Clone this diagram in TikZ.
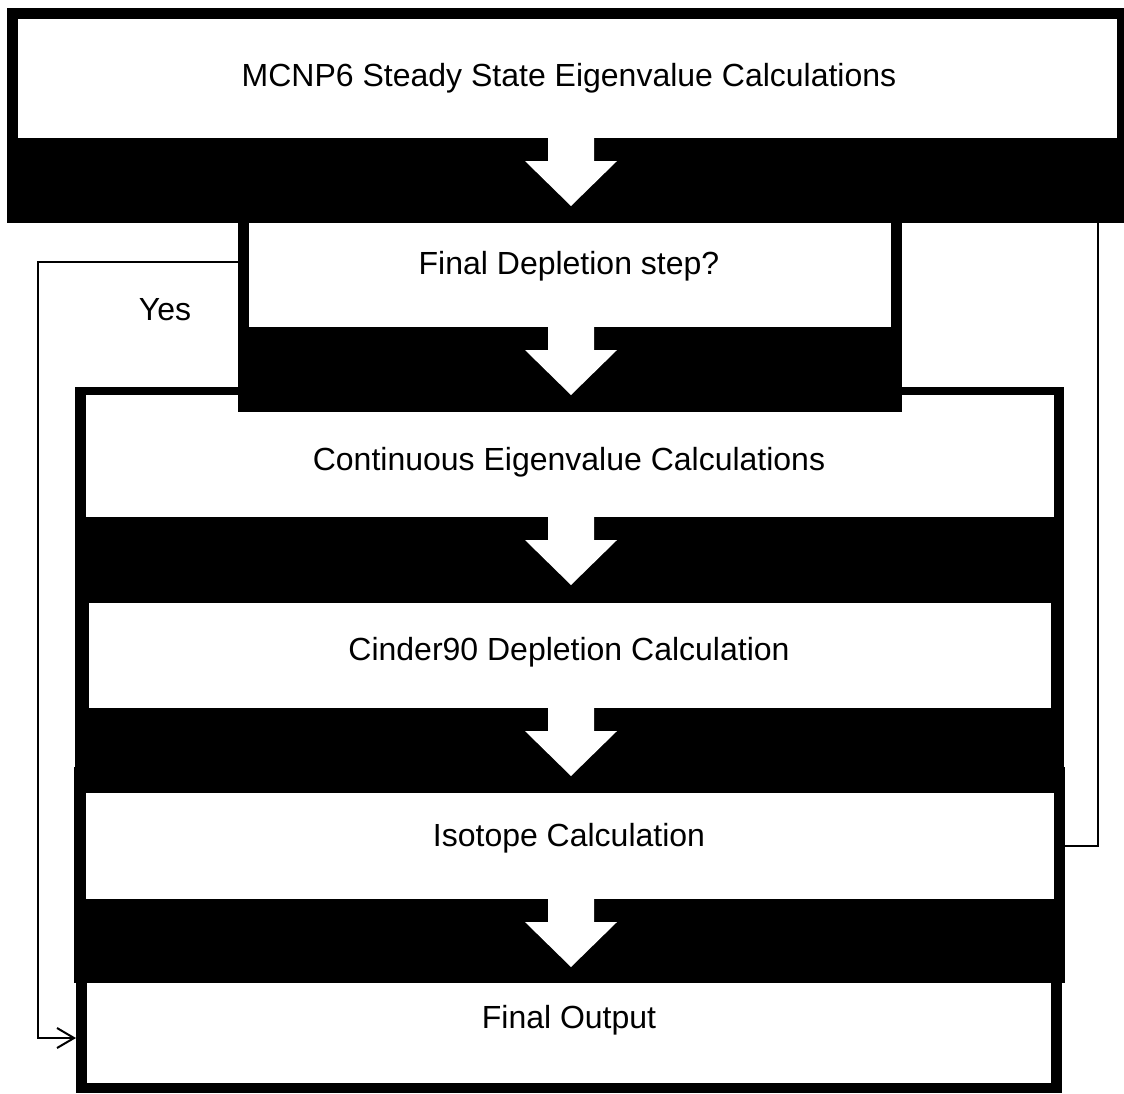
\documentclass[tikz,border=0pt]{standalone}
\usepackage{fontspec}
\setmainfont{Liberation Sans}
\usepackage{tikz}
\usetikzlibrary{arrows.meta}

\tikzset{
  blackbox/.style={fill=black, inner sep=0pt, outer sep=0pt},
  whitebox/.style={fill=white, inner sep=0pt, outer sep=0pt},
  steptext/.style={anchor=base, font=\fontsize{32}{38}\selectfont},
  loopline/.style={line width=2pt},
}
% white down arrow below a card, #1 = top edge
\newcommand{\blockarrow}[1]{%
  \fill[white, shift={(0,#1)}] (548,-1) -- (594,-1) -- (594,23) -- (617,23)
    -- (571,68) -- (525,23) -- (548,23) -- cycle;}

\begin{document}
\begin{tikzpicture}[x=1pt, y=-1pt]
        \useasboundingbox (0,0) rectangle (1124,1093);
        % drawn bottom-up, so each block lies over the next one
        \node[blackbox, minimum width=986pt, minimum height=110pt] (f6) at (569,1038) {};
        \node[whitebox, minimum width=964pt, minimum height=100pt] (c6) at (569,1033) {};
        \node[steptext] (t6) at (569,1028) {Final Output};

        \node[blackbox, minimum width=991pt, minimum height=216pt] (f5) at (569.5,875) {};
        \node[whitebox, minimum width=968pt, minimum height=106pt] (c5) at (570,846) {};
        \blockarrow{899}
        \node[steptext] (t5) at (569,846) {Isotope Calculation};

        \node[blackbox, minimum width=989pt, minimum height=167pt] (f4) at (569.5,686.5) {};
        \node[whitebox, minimum width=962pt, minimum height=105pt] (c4) at (570,655.5) {};
        \blockarrow{708}
        \node[steptext] (t4) at (569,660) {Cinder90 Depletion Calculation};

        \node[blackbox, minimum width=989pt, minimum height=216pt] (f3) at (569.5,495) {};
        \node[whitebox, minimum width=968pt, minimum height=122pt] (c3) at (570,456) {};
        \blockarrow{517}
        \node[steptext] (t3) at (569,470) {Continuous Eigenvalue Calculations};

        \node[blackbox, minimum width=664pt, minimum height=189pt] (f2) at (570,317.5) {};
        \node[whitebox, minimum width=642pt, minimum height=104pt] (c2) at (570,275) {};
        \blockarrow{327}
        \node[steptext] (t2) at (569,274) {Final Depletion step?};

        \node[blackbox, minimum width=1117pt, minimum height=215pt] (f1) at (565.5,115.5) {};
        \node[whitebox, minimum width=1099pt, minimum height=119pt] (c1) at (567.5,78.5) {};
        \blockarrow{138}
        \node[steptext] (t1) at (569,86) {MCNP6 Steady State Eigenvalue Calculations};

        % loop back and exit
        \coordinate (exit2) at (238,262);
        \coordinate (back1) at (1098,223);
        \draw[loopline, -{Straight Barb[length=17pt, width=20pt]}] (exit2) -- ++(-200,0) |- (f6.west);
        \node[steptext] (yes) at (165,320) {Yes};
        \draw[loopline] (c5.center -| f5.east) -| (back1);
    \end{tikzpicture}
\end{document}
